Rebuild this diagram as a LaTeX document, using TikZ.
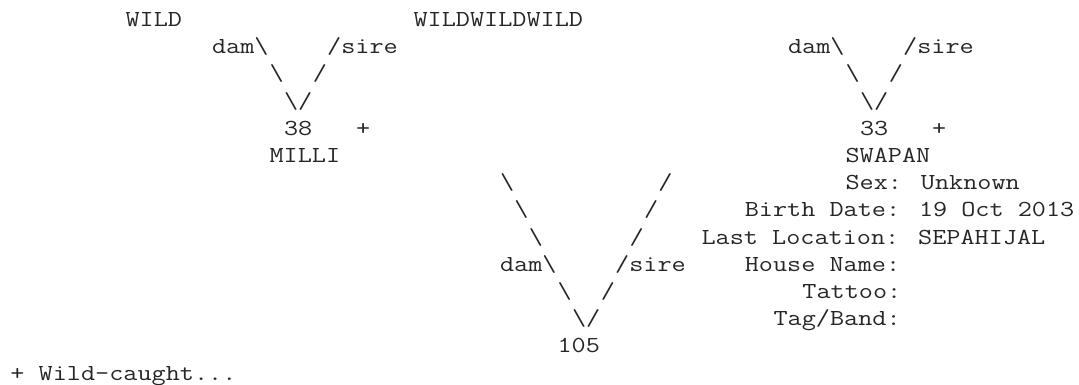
\documentclass[tikz,border=0pt]{standalone}
\usepackage{fontspec}
\usepackage{graphicx}
\newcommand\bsl{\textbackslash}
\tikzset{
  tt/.style={font=\ttfamily\fontsize{17.2}{17.2}\selectfont, anchor=base west, inner sep=0pt, outer sep=0pt, text=black!85}
}
\newcommand\putt[4]{\node[tt] (#1) at ({10.4+#2*14.4},{26.5+#3*27.2}) {\scalebox{1.196}[1]{#4}};}
\begin{document}
\begin{tikzpicture}[x=0.75pt,y=-0.75pt]
\useasboundingbox (0,0) rectangle (1079,385);
% row 0
\putt{wildA}{8}{0}{WILD}
\putt{wildB}{28}{0}{WILDWILDWILD}
% row 1
\putt{damL}{14}{1}{dam\bsl}
\putt{sireL}{22}{1}{/sire}
\putt{damR}{54}{1}{dam\bsl}
\putt{sireR}{62}{1}{/sire}
% row 2
\putt{lbL2}{18}{2}{\bsl}
\putt{lsL2}{21}{2}{/}
\putt{lbR2}{58}{2}{\bsl}
\putt{lsR2}{61}{2}{/}
% row 3
\putt{vL}{19}{3}{\bsl/}
\putt{vR}{59}{3}{\bsl/}
% row 4
\putt{idL}{19}{4}{38}
\putt{plL}{24}{4}{+}
\putt{idR}{59}{4}{33}
\putt{plR}{64}{4}{+}
% row 5
\putt{nmL}{18}{5}{MILLI}
\putt{nmR}{58}{5}{SWAPAN}
% row 6
\putt{b6}{34}{6}{\bsl}
\putt{s6}{45}{6}{/}
\putt{sex}{58}{6}{Sex: Unknown}
% row 7
\putt{b7}{35}{7}{\bsl}
\putt{s7}{44}{7}{/}
\putt{birth}{51}{7}{Birth Date: 19 Oct 2013}
% row 8
\putt{b8}{36}{8}{\bsl}
\putt{s8}{43}{8}{/}
\putt{loc}{48}{8}{Last Location: SEPAHIJAL}
% row 9
\putt{damC}{34}{9}{dam\bsl}
\putt{sireC}{42}{9}{/sire}
\putt{house}{51}{9}{House Name:}
% row 10
\putt{b10}{38}{10}{\bsl}
\putt{s10}{41}{10}{/}
\putt{tattoo}{55}{10}{Tattoo:}
% row 11
\putt{vC}{39}{11}{\bsl/}
\putt{tag}{53}{11}{Tag/Band:}
% row 12
\putt{idC}{38}{12}{105}
% row 13
\putt{note}{0}{13}{+ Wild-caught...}
\end{tikzpicture}
\end{document}
